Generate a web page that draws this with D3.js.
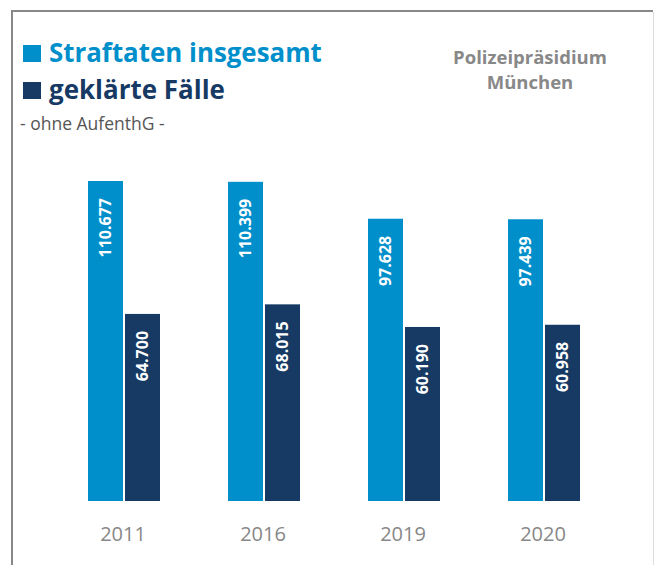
<!DOCTYPE html>
<html><head><meta charset="utf-8">
<script src="https://cdn.jsdelivr.net/npm/d3@7"></script>
<style>body{margin:0;background:#fff}svg{display:block}</style>
</head><body>
<script>
const years = ["2011", "2016", "2019", "2020"];
const straftaten = [110677, 110399, 97628, 97439];
const geklaert = [64700, 68015, 60190, 60958];
const seriesNames = ["Straftaten insgesamt", "geklärte Fälle"];
const seriesColors = ["#008fcb", "#163a64"];
const subtitle = "- ohne AufenthG -";
const sourceLines = ["Polizeipräsidium", "München"];

const W = 654, H = 565;
const font = "'Open Sans', 'Noto Sans', sans-serif";
const svg = d3.select("body").append("svg").attr("width", W).attr("height", H);

// frame
svg.append("line").attr("x1", 12).attr("x2", 653).attr("y1", 11).attr("y2", 11).attr("stroke", "#888").attr("stroke-width", 2);
svg.append("line").attr("x1", 12).attr("x2", 12).attr("y1", 10).attr("y2", H).attr("stroke", "#888").attr("stroke-width", 2);
svg.append("line").attr("x1", 653.5).attr("x2", 653.5).attr("y1", 12).attr("y2", H).attr("stroke", "#ddd").attr("stroke-width", 1);

// legend
const legendWidths = [273, 176];
seriesNames.forEach((name, i) => {
  const y = 45 + i * 37;
  svg.append("rect").attr("x", 23).attr("y", y).attr("width", 18).attr("height", 17).attr("fill", seriesColors[i]);
  const t = svg.append("text").attr("x", 49).attr("y", y + 17).text(name)
    .attr("font-family", font).attr("font-weight", 700).attr("font-size", 23.5)
    .attr("fill", seriesColors[i]);
  const w = t.node().getComputedTextLength();
  t.attr("font-size", 23.5 * legendWidths[i] / w);
});
svg.append("text").attr("x", 20).attr("y", 130).text(subtitle)
  .attr("font-family", font).attr("font-size", 17.5).attr("fill", "#555");

sourceLines.forEach((t, i) => {
  svg.append("text").attr("x", 530).attr("y", 64 + i * 25).attr("text-anchor", "middle").text(t)
    .attr("font-family", font).attr("font-weight", 700).attr("font-size", 18.5).attr("fill", "#888");
});

// scales
const x0 = d3.scaleBand().domain(years).range([53, 613]).paddingInner(0).paddingOuter(0);
const x1 = d3.scaleBand().domain([0, 1]).range([35, 107]).padding(0);
const y = d3.scaleLinear().domain([0, 110677]).range([501, 181]);

const fmt = v => d3.format(",")(v).replace(/,/g, ".");

years.forEach((yr, i) => {
  const g = svg.append("g").attr("transform", `translate(${x0(yr)},0)`);
  [straftaten[i], geklaert[i]].forEach((v, s) => {
    const bx = x1(s) + (s === 1 ? 1 : 0);
    const bw = 35;
    g.append("rect").attr("x", bx).attr("y", y(v)).attr("width", bw).attr("height", y(0) - y(v))
      .attr("fill", seriesColors[s]);
    const cx = bx + bw / 2, ty = y(v) + 17;
    g.append("text").attr("transform", `translate(${cx + 5.5},${ty}) rotate(-90)`)
      .attr("text-anchor", "end").text(fmt(v))
      .attr("font-family", font).attr("font-weight", 700).attr("font-size", 16).attr("fill", "#fff");
  });
});

const xAxis = svg.append("g").attr("transform", "translate(0,501)")
  .call(d3.axisBottom(x0).tickSize(0).tickPadding(0));
xAxis.select(".domain").remove();
xAxis.selectAll("text").attr("y", 40).attr("dy", 0)
  .attr("font-family", font).attr("font-size", 20).attr("fill", "#888");
</script>
</body></html>
